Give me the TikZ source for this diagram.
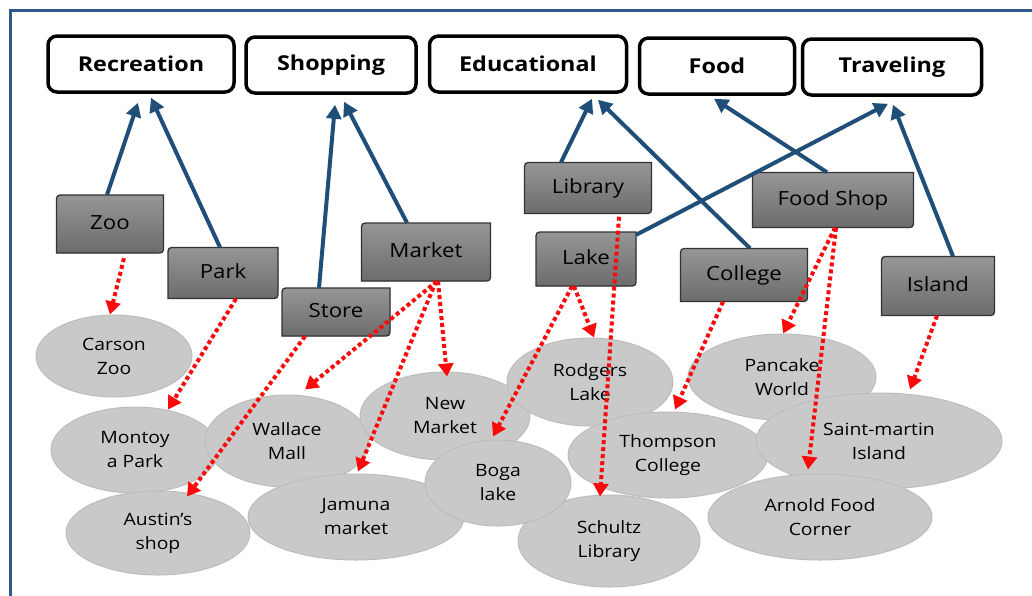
\documentclass[tikz,border=0pt]{standalone}
\usepackage{fontspec}
\setmainfont[FakeStretch=1.14]{Open Sans}
\usetikzlibrary{arrows.meta,shapes.geometric}

\definecolor{azul}{RGB}{31,78,121}
\definecolor{marco}{RGB}{46,90,138}
\definecolor{rojo}{RGB}{250,10,10}
\definecolor{grisA}{RGB}{150,150,150}
\definecolor{grisB}{RGB}{108,108,108}
\definecolor{nube}{RGB}{201,201,201}
\definecolor{nubeborde}{RGB}{188,188,188}

\tikzset{
    categoria/.style={draw=black, line width=3.5pt, rounded corners=9pt, fill=white,
        minimum width=#1, minimum height=56pt, font=\fontsize{20.5}{24}\selectfont\bfseries},
    lugar/.style args={#1/#2}{ellipse, fill=nube, draw=nubeborde, line width=1pt,
        minimum width=#1, minimum height=#2, inner sep=0pt, align=center,
        font=\fontsize{17}{24}\selectfont},
    sube/.style={azul, line width=4pt, -{Triangle[length=14pt,width=15pt]}},
    baja/.style={rojo, line width=4pt, dash pattern=on 4pt off 3pt,
        -{Triangle[length=13pt,width=15pt]}},
    pics/caja/.style args={#1/#2/#3/#4}{
        code={
            \filldraw[draw=black!80, line width=1.3pt, top color=grisA, bottom color=grisB]
                ({-#2/2},{#3/2}) -- ({-#2/2},{-#3/2+8}) .. controls ({-#2/2},{-#3/2}) .. ({-#2/2+8},{-#3/2})
                -- ({#2/2},{-#3/2}) -- ({#2/2},{#3/2-8}) .. controls ({#2/2},{#3/2}) .. ({#2/2-8},{#3/2}) -- cycle;
            \node[minimum width=#2pt, minimum height=#3pt, inner sep=0pt,
                font=\fontsize{19.5}{22}\selectfont] (#1) {\raisebox{3pt}{#4}};
        }
    }
}

\begin{document}
\begin{tikzpicture}[x=1pt,y=-1pt]
    \useasboundingbox (0,0) rectangle (1032,595);
    \fill[white] (0,0) rectangle (1032,595);
    \draw[marco, line width=3pt] (10,10) rectangle (1050,620);

    % categorias
    \node[categoria=186pt] (recreacion) at (141,64) {Recreation};
    \node[categoria=170pt] (compras) at (331,65) {Shopping};
    \node[categoria=197pt] (educacion) at (528,64) {Educational};
    \node[categoria=155pt] (comida) at (717,66) {Food};
    \node[categoria=179pt] (viaje) at (892,67) {Traveling};

    % lugares
    \node[lugar=156pt/82pt] (carson) at (114,356) {Carson\\Zoo};
    \node[lugar=168pt/86pt] (montoya) at (135,450) {Montoy\\a Park};
    \node[lugar=164pt/92pt] (wallace) at (287,441) {Wallace\\Mall};
    \node[lugar=184pt/84pt] (austin) at (158,533) {Austin’s\\shop};
    \node[lugar=216pt/86pt] (jamuna) at (356,517) {Jamuna\\market};
    \node[lugar=170pt/88pt] (newmarket) at (445,416) {New\\Market};
    \node[lugar=166pt/88pt] (rodgers) at (590,382) {Rodgers\\Lake};
    \node[lugar=200pt/86pt] (thompson) at (668,455) {Thompson\\College};
    \node[lugar=182pt/92pt] (schultz) at (609,541) {Schultz\\Library};
    \node[lugar=146pt/86pt] (boga) at (498,483) {Boga\\lake};
    \node[lugar=188pt/86pt] (pancake) at (782,377) {Pancake\\World};
    \node[lugar=246pt/96pt] (saint) at (879,441) {Saint-martin\\Island};
    \node[lugar=224pt/86pt] (arnold) at (820,517) {Arnold Food\\Corner};

    % cajas
    \pic[shift={(110,224)}]{caja=zoo/107/58/Zoo};
    \pic[shift={(223,273)}]{caja=park/110/51/Park};
    \pic[shift={(336,312)}]{caja=store/108/48/Store};
    \pic[shift={(426,252)}]{caja=market/129/58/Market};
    \pic[shift={(588,188)}]{caja=library/127/51/Library};
    \pic[shift={(586,259)}]{caja=lake/100/54/Lake};
    \pic[shift={(744,275)}]{caja=college/127/53/College};
    \pic[shift={(833,200)}]{caja=foodshop/161/55/Food Shop};
    \pic[shift={(938,286)}]{caja=island/113/59/Island};

    % flechas azules
    \draw[sube] ([xshift=-3pt]zoo.north) -- ([xshift=-3pt,yshift=-9pt]recreacion.south);
    \draw[sube] ([xshift=-3pt]park.north) -- ([xshift=10pt,yshift=-4pt]recreacion.south);
    \draw[sube] ([xshift=-17pt]store.north) -- ([xshift=4pt,yshift=-10pt]compras.south);
    \draw[sube] ([xshift=-19pt]market.north) -- ([xshift=13pt,yshift=-7pt]compras.south);
    \draw[sube] ([xshift=-27pt]library.north) -- ([xshift=64pt,yshift=-5pt]educacion.south);
    \draw[sube] ([xshift=6pt]college.north) -- ([xshift=70pt,yshift=-6pt]educacion.south);
    \draw[sube] ([yshift=-3pt]lake.north east) -- ([xshift=-4pt,yshift=-7pt]viaje.south);
    \draw[sube] ([xshift=-6pt]foodshop.north) -- ([xshift=-3pt,yshift=-3pt]comida.south);
    \draw[sube] ([xshift=15pt]island.north) -- ([xshift=1pt,yshift=-8pt]viaje.south);

    % flechas rojas
    \draw[baja] ([xshift=14pt,yshift=-5pt]zoo.south) -- ([xshift=-4pt]carson.north);
    \draw[baja] ([xshift=13pt]park.south) -- ([xshift=33pt,yshift=-3pt]montoya.north);
    \draw[baja] ([xshift=-31pt]store.south) -- ([xshift=29pt,yshift=-6pt]austin.north);
    \draw[baja] ([xshift=11pt]market.south) -- ([xshift=18pt,yshift=5pt]wallace.north);
    \draw[baja] ([xshift=12pt]market.south) -- ([xshift=2pt,yshift=-5pt]newmarket.north);
    \draw[baja] ([xshift=10pt]market.south) -- ([xshift=2pt,yshift=2pt]jamuna.north);
    \draw[baja] ([xshift=-14pt]lake.south) -- ([xshift=-5pt,yshift=3pt]boga.north);
    \draw[baja] ([xshift=-12pt]lake.south) -- ([xshift=4pt]rodgers.north);
    \draw[baja] ([xshift=31pt,yshift=-3pt]library.south) -- ([xshift=-9pt,yshift=-2pt]schultz.north);
    \draw[baja] ([xshift=-21pt]college.south) -- ([xshift=7pt,yshift=2pt]thompson.north);
    \draw[baja] ([xshift=2pt]foodshop.south) -- ([xshift=1pt]pancake.north);
    \draw[baja] ([xshift=3pt]foodshop.south) -- ([xshift=-12pt,yshift=4pt]arnold.north);
    \draw[baja] ([xshift=-1pt]island.south) -- ([xshift=31pt,yshift=3pt]saint.north);
\end{tikzpicture}
\end{document}
